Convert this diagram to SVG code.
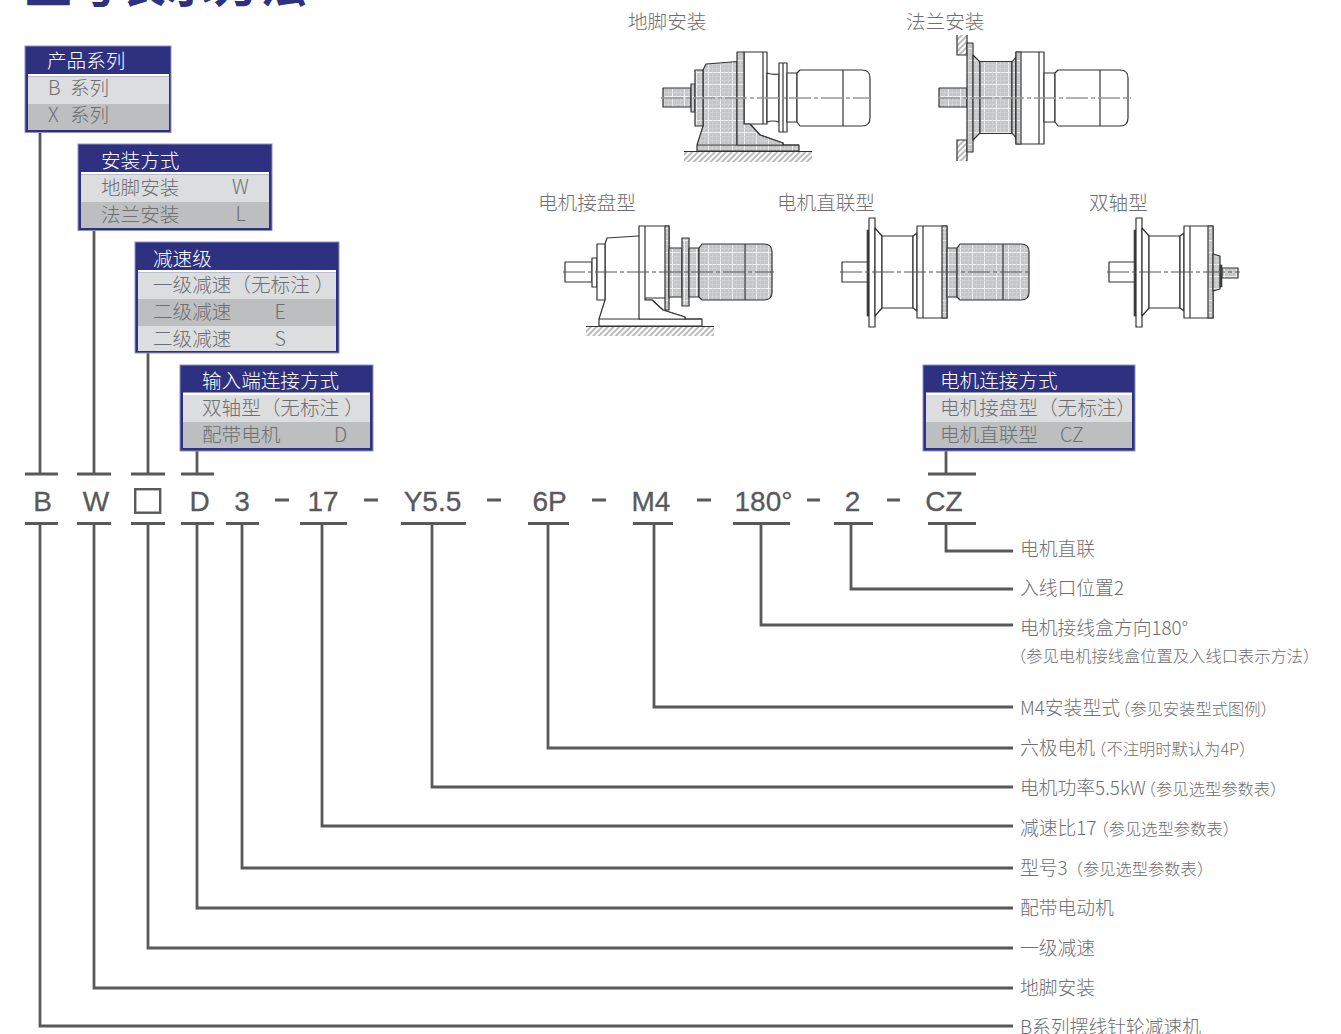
<svg xmlns="http://www.w3.org/2000/svg" width="1341" height="1034" viewBox="0 0 1341 1034">
<style>
text{font-family:"Noto Sans CJK SC","Noto Sans",sans-serif;font-weight:300;fill:#6d6e71}
.title{font-size:47px;font-weight:700;fill:#2e3180}
.h{font-size:19.6px;fill:#fff;font-weight:300}
.r{font-size:19.6px}
.c{font-family:"Liberation Sans",Arial,sans-serif;font-size:28px;font-weight:400;fill:#58595b;text-anchor:middle;stroke:#58595b;stroke-width:.3}
.l{font-size:18.8px}
.s{font-size:16.3px}
.cap{font-size:19.6px}
.frame{fill:#2e3180;stroke:#8f92c0;stroke-width:1}
.a{fill:#dcddde}.b{fill:#bcbec0}.w{fill:#fff}
.con{fill:none;stroke:#58595b;stroke-width:2.8}
.dash{stroke:#58595b;stroke-width:2.8}
.d{fill:#fff;stroke:#333;stroke-width:1.2;stroke-linejoin:round}
.sh{fill:url(#grid);stroke:#333;stroke-width:1.2;stroke-linejoin:round}
.k{fill:none;stroke:#333;stroke-width:1.2}
.g{fill:url(#hatch);stroke:none}
.cl{fill:none;stroke:#999;stroke-width:1.4;stroke-dasharray:22 3 4 3}
.cm{fill:none;stroke:#555;stroke-width:1;stroke-dasharray:22 3 4 3}
.dark{fill:#444;stroke:#333;stroke-width:.6}
</style>
<defs>
<pattern id="grid" width="12" height="12" patternUnits="userSpaceOnUse">
<rect width="12" height="12" fill="#c4c5c7"/><path d="M0 .5H12M.5 0V12" stroke="#f0f0f0" stroke-width="1"/><path d="M0 4.5H12M0 8.5H12M4.5 0V12M8.5 0V12" stroke="#d4d5d6" stroke-width=".6"/>
</pattern>
<pattern id="hatch" width="4" height="4" patternUnits="userSpaceOnUse" patternTransform="rotate(-45)">
<rect width="4" height="4" fill="#fff"/><path d="M0 1H4" stroke="#777" stroke-width="1"/>
</pattern>
</defs>
<rect width="1341" height="1034" fill="#fff"/>
<text class="title" x="25" y="1.500">型号表示方法</text>

<g id="connectors">
<path class="con" d="M40 132V474M25 474H58M25 523.5H58M40 523.5V1026H1013"/>
<path class="con" d="M94 230V474M77 474H111M77 523.5H111M94 523.5V988H1013"/>
<path class="con" d="M148 353V474M131 474H165M131 523.5H165M148 523.5V948H1013"/>
<path class="con" d="M197 451V474M181 474H214M181 523.5H214M197 523.5V908H1013"/>
<path class="con" d="M226 523.5H259M242 523.5V868H1013"/>
<path class="con" d="M300 523.5H347M322 523.5V826H1013"/>
<path class="con" d="M401 523.5H466M432 523.5V787H1013"/>
<path class="con" d="M528 523.5H569M548 523.5V748H1013"/>
<path class="con" d="M633 523.5H673M654 523.5V707H1013"/>
<path class="con" d="M733 523.5H790M761 523.5V625H1013"/>
<path class="con" d="M834 523.5H873M851 523.5V589H1013"/>
<path class="con" d="M928 523.5H976M946 523.5V551H1013"/>
<path class="con" d="M946 451V474M928 474H976"/>
</g>

<g id="box-series">
<rect class="frame" x="25" y="46" width="146" height="86.500"/>
<rect class="w" x="28" y="74" width="141" height="2.500"/><rect class="a" x="28" y="76.500" width="141" height="27.500"/><rect class="b" x="28" y="104" width="141" height="26"/>
<text class="h" x="47" y="68">产品系列</text>
<text class="r" x="48" y="95">B</text><text class="r" x="70" y="95">系列</text>
<text class="r" x="48" y="122">X</text><text class="r" x="70" y="122">系列</text>
</g>
<g id="box-mount">
<rect class="frame" x="78" y="144" width="194" height="86.500"/>
<rect class="w" x="81" y="172" width="188" height="2.500"/><rect class="a" x="81" y="174.500" width="188" height="27.500"/><rect class="b" x="81" y="202" width="188" height="26"/>
<text class="h" x="101" y="167.500">安装方式</text>
<text class="r" x="101" y="194.500">地脚安装</text><text class="r" x="232" y="194">W</text>
<text class="r" x="101" y="221.500">法兰安装</text><text class="r" x="235.500" y="221">L</text>
</g>
<g id="box-stage">
<rect class="frame" x="135" y="242" width="204" height="111"/>
<rect class="w" x="138" y="270" width="198" height="2.500"/><rect class="a" x="138" y="272.500" width="198" height="26.500"/><rect class="b" x="138" y="299" width="198" height="27"/><rect class="a" x="138" y="326" width="198" height="25"/>
<text class="h" x="153" y="265.500">减速级</text>
<text class="r" x="153" y="292">一级减速（无标注<tspan dx="5">）</tspan></text>
<text class="r" x="153" y="319">二级减速</text><text class="r" x="274.500" y="319">E</text>
<text class="r" x="153" y="346">二级减速</text><text class="r" x="274.500" y="346">S</text>
</g>
<g id="box-input">
<rect class="frame" x="180" y="365" width="193" height="86"/>
<rect class="w" x="183" y="392.500" width="187" height="2.500"/><rect class="a" x="183" y="395" width="187" height="27"/><rect class="b" x="183" y="422" width="187" height="26"/>
<text class="h" x="202" y="388">输入端连接方式</text>
<text class="r" x="202" y="415">双轴型（无标注<tspan dx="5">）</tspan></text>
<text class="r" x="202" y="442">配带电机</text><text class="r" x="334" y="442">D</text>
</g>
<g id="box-motor">
<rect class="frame" x="923" y="365" width="212" height="86"/>
<rect class="w" x="926" y="392.500" width="206" height="2.500"/><rect class="a" x="926" y="395" width="206" height="27"/><rect class="b" x="926" y="422" width="206" height="26"/>
<text class="h" x="940" y="388">电机连接方式</text>
<text class="r" x="940" y="415">电机接盘型（无标注）</text>
<text class="r" x="940" y="442">电机直联型</text><text class="r" x="1060" y="442">CZ</text>
</g>

<g id="code">
<text class="c" x="42.500" y="510.500">B</text>
<text class="c" x="96" y="510.500">W</text>
<rect x="135.200" y="489.200" width="25" height="23.500" fill="none" stroke="#58595b" stroke-width="2.400"/>
<text class="c" x="199.500" y="510.500">D</text>
<text class="c" x="242" y="510.500">3</text>
<text class="c" x="323" y="510.500">17</text>
<text class="c" x="432.500" y="510.500">Y5.5</text>
<text class="c" x="549.500" y="510.500">6P</text>
<text class="c" x="651" y="510.500">M4</text>
<text class="c" x="763.500" y="510.500">180°</text>
<text class="c" x="852.500" y="510.500">2</text>
<text class="c" x="944" y="510.500">CZ</text>
<path class="dash" d="M275 500H289M364 500H378M487 500H501M592 500H606M697 500H711M807 500H820M887 500H900"/>
</g>

<g id="labels">
<text class="l" x="1020" y="555.500">电机直联</text>
<text class="l" x="1020" y="595">入线口位置2</text>
<text class="l" x="1020" y="635">电机接线盒方向180°</text>
<text class="s" x="1010" y="662">（参见电机接线盒位置及入线口表示方法）</text>
<text class="l" x="1020" y="715">M4安装型式<tspan class="s" dx="-6">（参见安装型式图例）</tspan></text>
<text class="l" x="1020" y="755">六极电机<tspan class="s" dx="-5">（不注明时默认为4P）</tspan></text>
<text class="l" x="1020" y="795">电机功率5.5kW<tspan class="s" dx="-6">（参见选型参数表）</tspan></text>
<text class="l" x="1020" y="835">减速比17<tspan class="s" dx="-4">（参见选型参数表）</tspan></text>
<text class="l" x="1020" y="875">型号3<tspan class="s" dx="-1">（参见选型参数表）</tspan></text>
<text class="l" x="1020" y="915">配带电动机</text>
<text class="l" x="1020" y="955">一级减速</text>
<text class="l" x="1020" y="995">地脚安装</text>
<text class="l" x="1020" y="1034">B系列摆线针轮减速机</text>
</g>

<g id="fig-foot">
<text class="cap" x="628" y="29">地脚安装</text>
<rect class="g" x="684" y="151" width="128" height="11"/>
<path class="k" d="M684 151.500H812"/>
<rect class="sh" x="663" y="88" width="28" height="19"/>
<rect class="sh" x="691" y="84" width="4" height="28"/>
<path class="sh" d="M703 126L697 145V151H799V145H783V143L760 135L750 124H744V61L706 64L703 70Z"/>
<rect class="sh" x="695" y="70" width="8" height="56"/>
<path class="k" d="M697 145H799M737 61V145"/>
<path class="d" d="M744 52V124H767V52Z"/>
<path class="sh" d="M737 52H744V124L750 124L760 135L783 143V145H737Z"/>
<path class="k" d="M763 52V124"/>
<path class="d" d="M767 73Q773 75 779 74V122Q773 120 767 122Z"/>
<rect class="d" x="779" y="63" width="8" height="69"/><path class="k" d="M783 63V132"/>
<rect class="d" x="787" y="73" width="10" height="49"/>
<path class="d" d="M797 73L800 70H862Q870 70 870 78V118Q870 126 862 126H800L797 122Z"/>
<path class="k" d="M843 70V126"/>
<path class="cl" d="M661 98H870"/>
</g>

<g id="fig-flange">
<text class="cap" x="906" y="29">法兰安装</text>
<rect class="g" x="957" y="35" width="10" height="20"/>
<path class="k" d="M967 35V55H957V35"/>
<rect class="g" x="957" y="140" width="10" height="21"/>
<path class="k" d="M957 161V140H967V161"/>
<rect class="sh" x="939" y="88" width="28" height="19"/>
<rect class="sh" x="967" y="43" width="6" height="109"/>
<path class="sh" d="M973 55L980 62V133L973 140Z"/>
<rect class="sh" x="980" y="61.500" width="32" height="72"/>
<path class="sh" d="M1012 62L1016 57V138L1012 133Z"/>
<rect class="d" x="1016" y="52" width="28" height="92"/>
<rect class="sh" x="1016" y="52" width="5" height="92"/>
<path class="k" d="M1039 52V144"/>
<rect class="d" x="1044" y="73" width="11" height="49"/>
<path class="d" d="M1055 73L1058 70H1120Q1128 70 1128 78V118Q1128 126 1120 126H1058L1055 122Z"/>
<path class="k" d="M1100 70V126"/>
<path class="cl" d="M938 98H1131"/>
</g>

<g id="fig-disc">
<text class="cap" x="538" y="210">电机接盘型</text>
<rect class="g" x="586" y="326" width="128" height="10"/>
<path class="k" d="M586 326.500H714"/>
<rect class="d" x="565" y="262" width="27" height="20"/>
<rect class="d" x="592" y="258" width="5" height="29"/>
<path class="d" d="M605 300L599 319V326H702V319H685V317L663 310L652 300H645V236H638L607 238L605 244Z"/>
<rect class="d" x="597" y="244" width="8" height="56"/>
<path class="k" d="M599 319H702"/>
<path class="d" d="M639 226V319H685V317L663 310L652 300H645V298H669V226Z"/>
<rect class="sh" x="665" y="226" width="4" height="84"/>
<rect class="sh" x="669" y="248" width="13" height="49"/>
<rect class="sh" x="682" y="238" width="7" height="68"/>
<rect class="sh" x="689" y="248" width="10" height="49"/>
<path class="sh" d="M699 248L702 244H764Q772 244 772 252V292Q772 300 764 300H702L699 297Z"/>
<path class="k" d="M745 244V300M645 226V298"/>
<path class="cm" d="M563 272H774"/>
</g>

<g id="fig-direct">
<text class="cap" x="777" y="210">电机直联型</text>
<rect class="d" x="842" y="262" width="26" height="20"/>
<rect class="dark" x="867" y="230" width="2" height="86"/>
<rect class="d" x="869" y="218" width="6" height="109"/>
<path class="d" d="M875 228L882 236V308L875 316Z"/>
<rect class="d" x="882" y="236" width="31" height="72"/>
<path class="d" d="M913 236L917 233V311L913 308Z"/>
<rect class="d" x="917" y="226" width="30" height="92"/>
<path class="k" d="M923 226V318"/>
<rect class="sh" x="942" y="226" width="5" height="92"/>
<rect class="sh" x="947" y="248" width="10" height="49"/>
<path class="sh" d="M957 248L960 244H1021Q1029 244 1029 252V292Q1029 300 1021 300H960L957 297Z"/>
<path class="k" d="M1003 244V300"/>
<path class="cm" d="M840 272H1032"/>
</g>

<g id="fig-double">
<text class="cap" x="1089" y="210">双轴型</text>
<rect class="d" x="1109" y="262" width="26" height="20"/>
<rect class="dark" x="1134" y="230" width="2" height="86"/>
<rect class="d" x="1136" y="218" width="6" height="109"/>
<path class="d" d="M1142 228L1149 236V308L1142 316Z"/>
<rect class="d" x="1149" y="236" width="31" height="72"/>
<path class="d" d="M1180 236L1184 233V311L1180 308Z"/>
<rect class="d" x="1184" y="226" width="29" height="92"/>
<path class="k" d="M1190 226V318"/>
<rect class="sh" x="1208" y="226" width="5" height="92"/>
<path class="sh" d="M1213 254L1220 256V289L1213 291Z"/>
<rect class="dark" x="1220" y="265" width="2" height="22"/>
<rect class="sh" x="1222" y="268" width="16" height="10"/>
<path class="cm" d="M1107 272H1240"/>
</g>
</svg>
